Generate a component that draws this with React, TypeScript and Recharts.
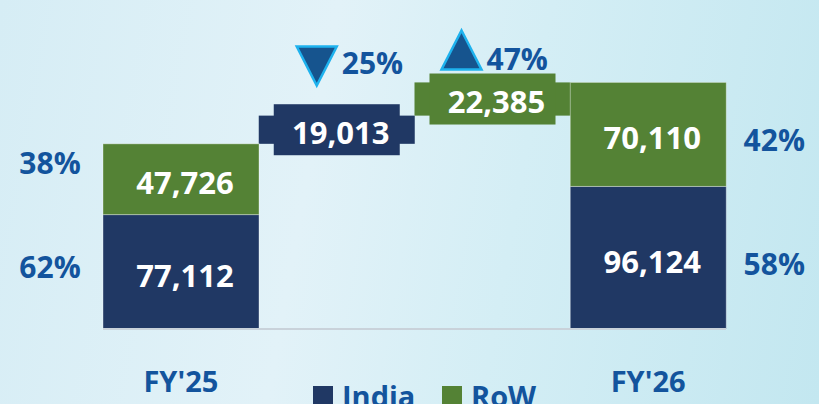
import React from "react";
import { BarChart, Bar, XAxis, YAxis } from "recharts";

// waterfall: FY'25 -> India change -> RoW change -> FY'26
const categories = ["FY'25", "India", "RoW", "FY'26"];
const kinds = ["total", "bridge", "bridge", "total"];
const indiaValues = [77112, 19013, 0, 96124];
const rowValues = [47726, 0, 22385, 70110];
const indiaShare = [62, null, null, 58];
const rowShare = [38, null, null, 42];
const changePct = [null, 25, 47, null];
const changeDir = [null, "down", "up", null];

const INDIA = "#203864";
const ROW = "#548235";
const BLUE = "#13549d";
const FONT = "'Open Sans', sans-serif";

// floating base for the bridge bars
const bases = categories.map((_, i) => {
  if (kinds[i] !== "bridge") return 0;
  let b = indiaValues[0] + rowValues[0];
  for (let j = 1; j < i; j++) b += indiaValues[j] + rowValues[j];
  return b;
});

const data = categories.map((name, i) => ({
  name,
  idx: i,
  base: bases[i],
  india: indiaValues[i],
  row: rowValues[i],
}));

const fmt = (v: number) => v.toLocaleString("en-US");

const Triangle = ({ cx, cy, dir }: any) => {
  const w = 40;
  const h = 39;
  const pts =
    dir === "down"
      ? `${cx - w / 2},${cy - h / 2} ${cx + w / 2},${cy - h / 2} ${cx},${cy + h / 2}`
      : `${cx - w / 2},${cy + h / 2} ${cx + w / 2},${cy + h / 2} ${cx},${cy - h / 2}`;
  return <polygon points={pts} fill="#16548e" stroke="#1eb2ee" strokeWidth={2.5} strokeLinejoin="miter" />;
};

const makeShape = (key: "india" | "row") => (props: any) => {
  const { x, y, width, height, payload } = props;
  if (!height || height <= 0.5) return <g />;
  const i = payload.idx;
  const fill = key === "india" ? INDIA : ROW;
  const value = key === "india" ? indiaValues[i] : rowValues[i];

  if (kinds[i] === "bridge") {
    const cx = x + width / 2;
    const cy = y + height / 2;
    const boxW = 126;
    const boxH = 51;
    const dir = changeDir[i];
    const triCx = dir === "down" ? cx - 20 : cx - 31;
    const triCy = dir === "down" ? 66 : 50;
    const pctY = dir === "down" ? 62 : 58;
    return (
      <g>
        <rect x={x} y={y} width={width} height={height} fill={fill} />
        <rect x={cx - boxW / 2} y={cy - boxH / 2} width={boxW} height={boxH} fill={fill} />
        <text
          x={cx + 4}
          y={cy + 2}
          textAnchor="middle"
          dominantBaseline="central"
          fill="#fff"
          fontSize={31}
          fontWeight={700}
          fontFamily={FONT}
        >
          {fmt(value)}
        </text>
        <Triangle cx={triCx} cy={triCy} dir={dir} />
        <text
          x={triCx + 25}
          y={pctY}
          textAnchor="start"
          dominantBaseline="central"
          fill={BLUE}
          fontSize={30}
          fontWeight={700}
          fontFamily={FONT}
        >
          {changePct[i]}%
        </text>
      </g>
    );
  }

  const share = key === "india" ? indiaShare[i] : rowShare[i];
  const left = i === 0;
  const shareX = left ? x - 53 : x + width + 48;
  const shareDy = left ? (key === "row" ? -17 : -5) : key === "row" ? 5 : 6;
  return (
    <g>
      <rect x={x} y={y} width={width} height={height} fill={fill} stroke="rgba(255,255,255,0.35)" strokeWidth={1} />
      <text
        x={x + width / 2 + 4}
        y={y + height / 2 + 3}
        textAnchor="middle"
        dominantBaseline="central"
        fill="#fff"
        fontSize={31}
        fontWeight={700}
        fontFamily={FONT}
      >
        {fmt(value)}
      </text>
      {share != null && (
        <text
          x={shareX}
          y={y + height / 2 + shareDy}
          textAnchor="middle"
          dominantBaseline="central"
          fill={BLUE}
          fontSize={30}
          fontWeight={700}
          fontFamily={FONT}
        >
          {share}%
        </text>
      )}
    </g>
  );
};

const Tick = ({ x, y, payload }: any) => {
  const label = kinds[payload.index] === "total" ? payload.value : "";
  if (!label) return <g />;
  return (
    <text
      x={x}
      y={y + 43}
      textAnchor="middle"
      dominantBaseline="central"
      fill={BLUE}
      fontSize={29}
      fontWeight={700}
      fontFamily={FONT}
    >
      {label}
    </text>
  );
};

const LegendItem = ({ color, label, left }: any) => (
  <div
    style={{
      position: "absolute",
      left,
      top: 376,
      display: "flex",
      alignItems: "flex-start",
      fontFamily: FONT,
      fontWeight: 700,
      fontSize: 29,
      color: BLUE,
      lineHeight: "40px",
      whiteSpace: "nowrap",
    }}
  >
    <span style={{ display: "inline-block", width: 20, height: 20, background: color, marginTop: 10, marginRight: 9 }} />
    {label}
  </div>
);

export default function App() {
  return (
    <div
      style={{
        position: "relative",
        width: 819,
        height: 404,
        overflow: "hidden",
        background:
          "linear-gradient(100deg, #d6edf5 0%, #e2f2f8 38%, #d4eef5 62%, #c3e7f0 100%)",
      }}
    >
      <style>{`body{margin:0}`}</style>
      <BarChart
        width={819}
        height={404}
        data={data}
        margin={{ top: 62, right: 93, bottom: 45, left: 103 }}
        barCategoryGap={0}
      >
        <XAxis
          dataKey="name"
          height={30}
          interval={0}
          tickLine={false}
          axisLine={{ stroke: "#c9d2da", strokeWidth: 2 }}
          tick={<Tick />}
        />
        <YAxis hide domain={[0, 180000]} />
        <Bar dataKey="base" stackId="a" fill="transparent" isAnimationActive={false} />
        <Bar dataKey="india" stackId="a" fill={INDIA} shape={makeShape("india")} isAnimationActive={false} />
        <Bar dataKey="row" stackId="a" fill={ROW} shape={makeShape("row")} isAnimationActive={false} />
      </BarChart>
      <LegendItem color={INDIA} label="India" left={313} />
      <LegendItem color={ROW} label="RoW" left={442} />
    </div>
  );
}
